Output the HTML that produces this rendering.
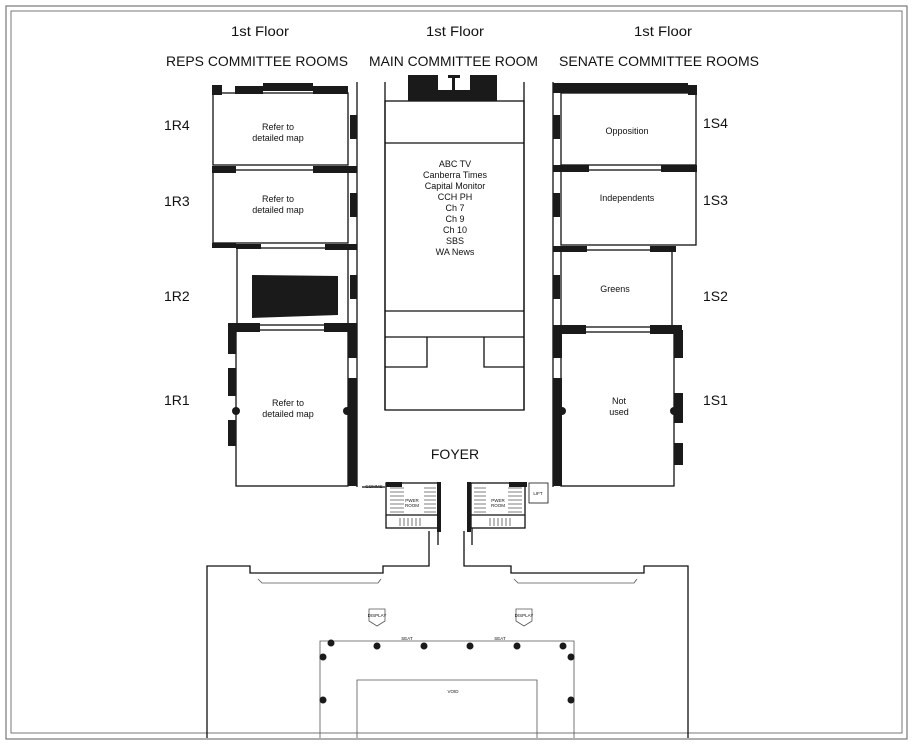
<!DOCTYPE html>
<html><head><meta charset="utf-8"><style>
html,body{margin:0;padding:0;background:#fff;}
svg{display:block;}
text{font-family:"Liberation Sans",sans-serif;fill:#111;}
</style></head><body>
<svg width="914" height="746" viewBox="0 0 914 746" xmlns="http://www.w3.org/2000/svg">
<rect x="0" y="0" width="914" height="746" fill="#fff"/>
<!-- frame -->
<rect x="6" y="6" width="901" height="733" fill="none" stroke="#777" stroke-width="1.2"/>
<rect x="11" y="11" width="891" height="722" fill="none" stroke="#777" stroke-width="1"/>

<!-- headers -->
<g font-size="14">
<text x="231" y="36" textLength="58" lengthAdjust="spacingAndGlyphs">1st Floor</text>
<text x="426" y="36" textLength="58" lengthAdjust="spacingAndGlyphs">1st Floor</text>
<text x="634" y="36" textLength="58" lengthAdjust="spacingAndGlyphs">1st Floor</text>
<text x="166" y="66" textLength="182" lengthAdjust="spacingAndGlyphs">REPS COMMITTEE ROOMS</text>
<text x="369" y="66" textLength="169" lengthAdjust="spacingAndGlyphs">MAIN COMMITTEE ROOM</text>
<text x="559" y="66" textLength="200" lengthAdjust="spacingAndGlyphs">SENATE COMMITTEE ROOMS</text>
</g>
<g font-size="14">
<text x="164" y="130">1R4</text><text x="164" y="206">1R3</text>
<text x="164" y="301">1R2</text><text x="164" y="405">1R1</text>
<text x="703" y="128">1S4</text><text x="703" y="205">1S3</text>
<text x="703" y="301">1S2</text><text x="703" y="405">1S1</text>
</g>

<g fill="none" stroke="#111" stroke-width="1.3">
<!-- left rooms -->
<rect x="213" y="93" width="135" height="72"/>
<rect x="213" y="170" width="135" height="73"/>
<rect x="237" y="248" width="111" height="77"/>
<rect x="236" y="330" width="112" height="156"/>
<!-- left corridor -->
<line x1="357" y1="82" x2="357" y2="410"/>
<line x1="385" y1="82" x2="385" y2="410"/>
<!-- main room -->
<rect x="385" y="101" width="139" height="309"/>
<line x1="385" y1="143" x2="524" y2="143"/>
<line x1="385" y1="311" x2="524" y2="311"/>
<line x1="385" y1="337" x2="524" y2="337"/>
<polyline points="385,367 427,367 427,337"/>
<polyline points="524,367 484,367 484,337"/>
<!-- right corridor -->
<line x1="524" y1="82" x2="524" y2="410"/>
<line x1="553" y1="82" x2="553" y2="410"/>
<!-- right rooms -->
<rect x="561" y="93" width="135" height="72"/>
<rect x="561" y="170" width="135" height="75"/>
<rect x="561" y="250" width="111" height="77"/>
<rect x="561" y="332" width="113" height="154"/>
<!-- foyer -->
<line x1="357" y1="410" x2="357" y2="487"/>
<line x1="553" y1="410" x2="553" y2="487"/>
<line x1="362" y1="487" x2="385" y2="487"/>
<!-- stairs blocks -->
<rect x="386" y="483" width="54" height="45"/>
<line x1="386" y1="515" x2="440" y2="515"/>
<rect x="471" y="483" width="54" height="45"/>
<line x1="471" y1="515" x2="525" y2="515"/>
<rect x="529" y="483" width="19" height="20" stroke-width="0.8"/>
<line x1="438" y1="528" x2="438" y2="545"/>
<line x1="472" y1="528" x2="472" y2="545"/>
<!-- lower hall -->
<polyline points="207,738 207,566 250,566 250,573 383,573 383,566 429,566 429,531"/>
<polyline points="464,531 464,566 511,566 511,573 644,573 644,566 688,566 688,738"/>
</g>
<g fill="none" stroke="#555" stroke-width="0.8">
<polyline points="258,579 262,583 378,583 381,579"/>
<polyline points="514,579 518,583 634,583 637,579"/>
<polyline points="320,738 320,641 574,641 574,738"/>
<polyline points="357,738 357,680 537,680 537,738"/>
<!-- stair treads -->
<path d="M390,488h14M390,492h14M390,496h14M390,500h14M390,504h14M390,508h14M390,512h14M424,488h12M424,492h12M424,496h12M424,500h12M424,504h12M424,508h12M424,512h12M400,518v8M404,518v8M408,518v8M412,518v8M416,518v8M420,518v8"/>
<path d="M474,488h12M474,492h12M474,496h12M474,500h12M474,504h12M474,508h12M474,512h12M508,488h14M508,492h14M508,496h14M508,500h14M508,504h14M508,508h14M508,512h14M490,518v8M494,518v8M498,518v8M502,518v8M506,518v8M510,518v8"/>
<!-- displays -->
<path d="M369,609v12l8,5 8,-5v-12z"/>
<path d="M516,609v12l8,5 8,-5v-12z"/>
</g>

<!-- dark walls -->
<g fill="#1a1a1a">
<rect x="212" y="85" width="10" height="10"/>
<rect x="235" y="86" width="28" height="8"/>
<rect x="263" y="83" width="50" height="8"/>
<rect x="313" y="86" width="35" height="8"/>
<rect x="212" y="166" width="24" height="7"/>
<rect x="313" y="166" width="44" height="7"/>
<rect x="212" y="243" width="24" height="5"/>
<rect x="236" y="244" width="25" height="5"/>
<rect x="325" y="244" width="32" height="6"/>
<rect x="228" y="323" width="32" height="9"/>
<rect x="324" y="323" width="33" height="9"/>
<rect x="348" y="330" width="9" height="28"/>
<rect x="348" y="378" width="9" height="108"/>
<rect x="228" y="330" width="8" height="24"/>
<rect x="228" y="368" width="8" height="28"/>
<rect x="228" y="420" width="8" height="26"/>
<rect x="350" y="115" width="7" height="24"/>
<rect x="350" y="193" width="7" height="24"/>
<rect x="350" y="275" width="7" height="24"/>
<rect x="553" y="115" width="7" height="24"/>
<rect x="553" y="193" width="7" height="24"/>
<rect x="553" y="275" width="7" height="24"/>
<rect x="408" y="75" width="30" height="26"/>
<rect x="470" y="75" width="27" height="26"/>
<rect x="438" y="90" width="32" height="11"/>
<rect x="452" y="75" width="3" height="15"/>
<rect x="448" y="75" width="12" height="3"/>
<rect x="553" y="83" width="135" height="10"/>
<rect x="688" y="85" width="9" height="10"/>
<rect x="553" y="165" width="36" height="7"/>
<rect x="661" y="165" width="36" height="7"/>
<rect x="553" y="246" width="34" height="6"/>
<rect x="650" y="246" width="26" height="6"/>
<rect x="553" y="325" width="33" height="9"/>
<rect x="650" y="325" width="32" height="9"/>
<rect x="553" y="378" width="9" height="108"/>
<rect x="553" y="330" width="9" height="28"/>
<rect x="674" y="330" width="9" height="28"/>
<rect x="674" y="393" width="9" height="30"/>
<rect x="674" y="443" width="9" height="22"/>
<rect x="386" y="482" width="16" height="5"/>
<rect x="509" y="482" width="18" height="5"/>
<rect x="437" y="482" width="4" height="50"/>
<rect x="467" y="482" width="4" height="50"/>
<path d="M252,275 L338,276 L338,315 L252,318 Z"/>
<circle cx="236" cy="411" r="4"/><circle cx="347" cy="411" r="4"/>
<circle cx="562" cy="411" r="4"/><circle cx="674" cy="411" r="4"/>
<circle cx="331" cy="643" r="3.5"/><circle cx="377" cy="646" r="3.5"/>
<circle cx="424" cy="646" r="3.5"/><circle cx="470" cy="646" r="3.5"/>
<circle cx="517" cy="646" r="3.5"/><circle cx="563" cy="646" r="3.5"/>
<circle cx="323" cy="657" r="3.5"/><circle cx="571" cy="657" r="3.5"/>
<circle cx="323" cy="700" r="3.5"/><circle cx="571" cy="700" r="3.5"/>
</g>

<!-- room labels -->
<g font-size="9" text-anchor="middle">
<text x="278" y="130">Refer to</text><text x="278" y="141">detailed map</text>
<text x="278" y="202">Refer to</text><text x="278" y="213">detailed map</text>
<text x="288" y="406">Refer to</text><text x="288" y="417">detailed map</text>
<text x="627" y="134">Opposition</text>
<text x="627" y="201">Independents</text>
<text x="615" y="292">Greens</text>
<text x="619" y="404">Not</text><text x="619" y="415">used</text>
<text x="455" y="167">ABC TV</text>
<text x="455" y="178">Canberra Times</text>
<text x="455" y="189">Capital Monitor</text>
<text x="455" y="200">CCH PH</text>
<text x="455" y="211">Ch 7</text>
<text x="455" y="222">Ch 9</text>
<text x="455" y="233">Ch 10</text>
<text x="455" y="244">SBS</text>
<text x="455" y="255">WA News</text>
</g>
<text x="455" y="459" font-size="14" text-anchor="middle">FOYER</text>
<g font-size="4.5" text-anchor="middle">
<text x="374" y="488">COMMS</text>
<text x="412" y="502">PWER</text><text x="412" y="507">ROOM</text>
<text x="498" y="502">PWER</text><text x="498" y="507">ROOM</text>
<text x="538" y="495">LIFT</text>
<text x="377" y="617">DISPLAY</text>
<text x="524" y="617">DISPLAY</text>
<text x="407" y="640">SEAT</text>
<text x="500" y="640">SEAT</text>
<text x="453" y="693">VOID</text>
</g>
</svg>
</body></html>
